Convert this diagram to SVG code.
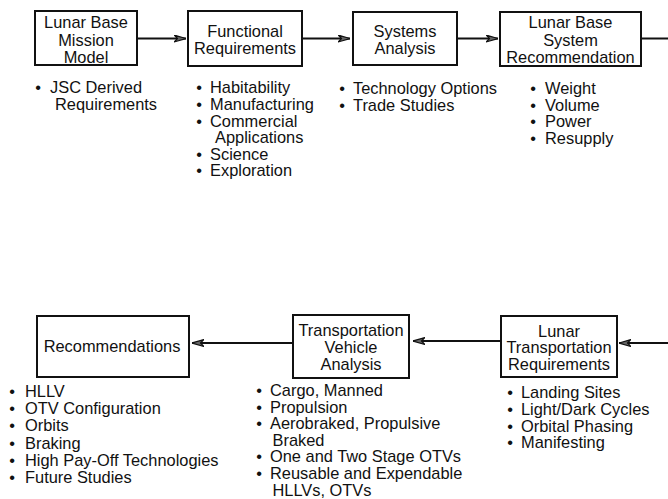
<svg xmlns="http://www.w3.org/2000/svg" width="668" height="499" viewBox="0 0 668 499">
<defs>
<style>
text{font-family:"Liberation Sans",Arial,sans-serif;font-size:16.4px;fill:#111}
.c{text-anchor:middle}
.box{fill:#fff;stroke:#111;stroke-width:2}
.ln{stroke:#111;stroke-width:2;fill:none}
.b{text-anchor:middle}
</style>
<marker id="ah" viewBox="0 0 12 8" refX="12" refY="4" markerWidth="12" markerHeight="8" markerUnits="userSpaceOnUse" orient="auto">
<path d="M0,0.5 L12,4 L0,7.5 L3.5,4 Z" fill="#666" stroke="#111" stroke-width="1.2" stroke-linejoin="round"/>
</marker>
</defs>
<rect width="668" height="499" fill="#fff"/>
<g id="connectors">
<line class="ln" x1="137" y1="38.5" x2="186" y2="38.5" marker-end="url(#ah)"/>
<line class="ln" x1="302" y1="38.5" x2="350" y2="38.5" marker-end="url(#ah)"/>
<line class="ln" x1="457" y1="38.5" x2="498" y2="38.5" marker-end="url(#ah)"/>
<line class="ln" x1="641" y1="38.5" x2="668" y2="38.5"/>
<line class="ln" x1="668" y1="343" x2="619" y2="343" marker-end="url(#ah)"/>
<line class="ln" x1="501" y1="341" x2="413" y2="341" marker-end="url(#ah)"/>
<line class="ln" x1="293" y1="343" x2="192" y2="343" marker-end="url(#ah)"/>
</g>
<g id="n1">
<rect class="box" x="35" y="11" width="102" height="54"/>
<text class="c" x="86" y="28">Lunar Base</text>
<text class="c" x="86" y="45.5">Mission</text>
<text class="c" x="86" y="62.5">Model</text>
<text class="b" x="38" y="93">•</text>
<text x="50" y="93">JSC Derived</text>
<text x="55" y="109.5">Requirements</text>
</g>
<g id="n2">
<rect class="box" x="188" y="11" width="114" height="55"/>
<text class="c" x="245" y="37">Functional</text>
<text class="c" x="245" y="54">Requirements</text>
<text class="b" x="199" y="93">•</text><text x="210" y="93">Habitability</text>
<text class="b" x="199" y="110">•</text><text x="210" y="110">Manufacturing</text>
<text class="b" x="199" y="126.5">•</text><text x="210" y="126.5">Commercial</text>
<text x="215" y="143">Applications</text>
<text class="b" x="199" y="159.5">•</text><text x="210" y="159.5">Science</text>
<text class="b" x="199" y="176">•</text><text x="210" y="176">Exploration</text>
</g>
<g id="n3">
<rect class="box" x="353" y="12" width="104" height="53"/>
<text class="c" x="405" y="37">Systems</text>
<text class="c" x="405" y="54">Analysis</text>
<text class="b" x="342" y="94">•</text><text x="353" y="94">Technology Options</text>
<text class="b" x="342" y="110.5">•</text><text x="353" y="110.5">Trade Studies</text>
</g>
<g id="n4">
<rect class="box" x="500" y="12" width="141" height="54"/>
<text class="c" x="570.5" y="28">Lunar Base</text>
<text class="c" x="570.5" y="45.5">System</text>
<text class="c" x="570.5" y="62.5">Recommendation</text>
<text class="b" x="533" y="94">•</text><text x="545" y="94">Weight</text>
<text class="b" x="533" y="110.5">•</text><text x="545" y="110.5">Volume</text>
<text class="b" x="533" y="127">•</text><text x="545" y="127">Power</text>
<text class="b" x="533" y="143.5">•</text><text x="545" y="143.5">Resupply</text>
</g>
<g id="n5">
<rect class="box" x="37" y="316" width="152" height="61"/>
<text class="c" x="112" y="351.5">Recommendations</text>
<text class="b" x="12" y="397">•</text><text x="25" y="397">HLLV</text>
<text class="b" x="12" y="414.2">•</text><text x="25" y="414.2">OTV Configuration</text>
<text class="b" x="12" y="431.4">•</text><text x="25" y="431.4">Orbits</text>
<text class="b" x="12" y="448.6">•</text><text x="25" y="448.6">Braking</text>
<text class="b" x="12" y="465.8">•</text><text x="25" y="465.8">High Pay-Off Technologies</text>
<text class="b" x="12" y="483">•</text><text x="25" y="483">Future Studies</text>
</g>
<g id="n6">
<rect class="box" x="293" y="315" width="116" height="63"/>
<text class="c" x="351" y="335.5">Transportation</text>
<text class="c" x="351" y="353">Vehicle</text>
<text class="c" x="351" y="370">Analysis</text>
<text class="b" x="259" y="396">•</text><text x="270" y="396">Cargo, Manned</text>
<text class="b" x="259" y="412.6">•</text><text x="270" y="412.6">Propulsion</text>
<text class="b" x="259" y="429.2">•</text><text x="270" y="429.2">Aerobraked, Propulsive</text>
<text x="272.5" y="445.8">Braked</text>
<text class="b" x="259" y="462.4">•</text><text x="270" y="462.4">One and Two Stage OTVs</text>
<text class="b" x="259" y="479">•</text><text x="270" y="479">Reusable and Expendable</text>
<text x="272.5" y="495.6">HLLVs, OTVs</text>
</g>
<g id="n7">
<rect class="box" x="501" y="316" width="116" height="61"/>
<text class="c" x="559" y="336.5">Lunar</text>
<text class="c" x="559" y="353.3">Transportation</text>
<text class="c" x="559" y="370">Requirements</text>
<text class="b" x="510" y="398.3">•</text><text x="521" y="398.3">Landing Sites</text>
<text class="b" x="510" y="415">•</text><text x="521" y="415">Light/Dark Cycles</text>
<text class="b" x="510" y="431.7">•</text><text x="521" y="431.7">Orbital Phasing</text>
<text class="b" x="510" y="448.3">•</text><text x="521" y="448.3">Manifesting</text>
</g>
</svg>
